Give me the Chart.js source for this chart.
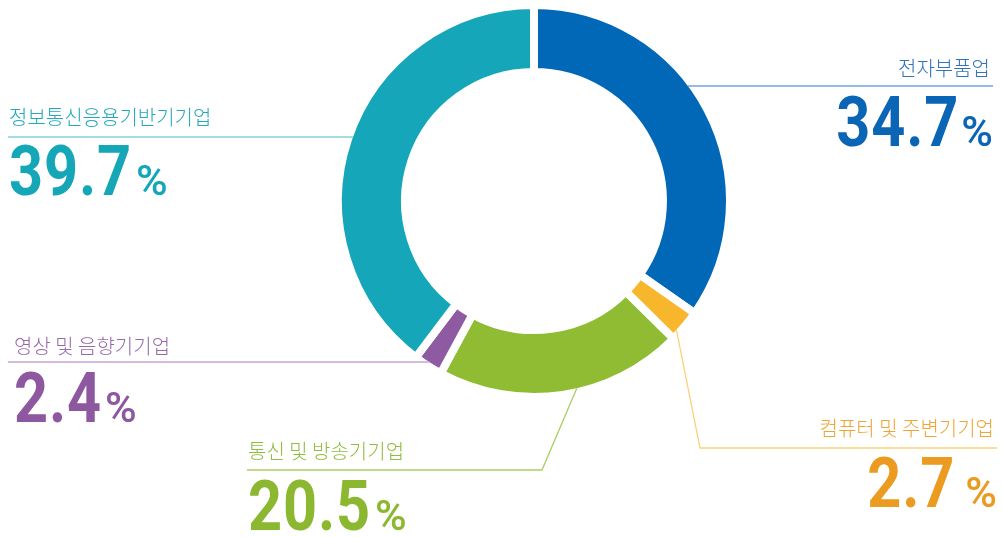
<!DOCTYPE html>
<html>
<head>
<meta charset="utf-8">
<script src="https://cdn.jsdelivr.net/npm/chart.js@4.4.0/dist/chart.umd.min.js"></script>
<style>
  html, body { margin: 0; padding: 0; background: #fff; }
  canvas { display: block; }
</style>
</head>
<body>
<canvas id="shareChart" width="1002" height="537"></canvas>
<script>
// slices run clockwise from 12 o'clock
const categories = ['전자부품업', '컴퓨터 및 주변기기업', '통신 및 방송기기업', '영상 및 음향기기업', '정보통신응용기반기기업'];
const shares = [34.7, 2.7, 20.5, 2.4, 39.7];

const sliceColors = ['#0068b7', '#f8b62d', '#8fbc33', '#8e5ba3', '#15a7b9'];
const labelColors = ['#2f74bd', '#f0a535', '#8fbd3c', '#9768ab', '#22a9bb'];
const numberColors = ['#0a66b4', '#eb9b20', '#8bb830', '#8e58a0', '#15a6b8'];
const lineColors = ['#6aa6e0', '#fcd27a', '#a9cf62', '#c9a4d6', '#86d1db'];

// where each callout sits (layout only)
const callouts = [
  { align: 'right', x: 993, labelY: 76, lineY: 86, lineEnd: 993, numY: 146, gap: 2 },
  { align: 'right', x: 997, labelY: 436, lineY: 448, lineEnd: 997, elbowX: 700, t: 0.74, numY: 507, gap: 10 },
  { align: 'left', x: 248, labelY: 459, lineY: 470, lineEnd: 247, elbowX: 542, t: 0.44, numY: 530, gap: 4 },
  { align: 'left', x: 14, labelY: 354, lineY: 362, lineEnd: 8, numY: 422, gap: 3 },
  { align: 'left', x: 9, labelY: 125, lineY: 137, lineEnd: 8, numY: 195, gap: 4 }
];

const NUM_FONT = 'bold 70px Roboto';
const PCT_FONT = '500 43px Roboto';
const NUM_SCALE = 0.85;

const calloutPlugin = {
  id: 'callouts',
  afterDraw(chart) {
    const ctx = chart.ctx;
    const arcs = chart.getDatasetMeta(0).data;
    arcs.forEach((arc, i) => {
      const c = callouts[i];
      const p = arc.getProps(['x', 'y', 'outerRadius', 'startAngle', 'endAngle'], true);
      const R = p.outerRadius - 4; // visible edge (white border eats 4px)
      ctx.save();

      // leader line
      ctx.strokeStyle = lineColors[i];
      ctx.lineWidth = 1.3;
      ctx.beginPath();
      if (c.elbowX !== undefined) {
        const a = p.startAngle + (p.endAngle - p.startAngle) * c.t;
        ctx.moveTo(p.x + Math.cos(a) * R, p.y + Math.sin(a) * R);
        ctx.lineTo(c.elbowX, c.lineY);
      } else {
        const dy = c.lineY - p.y;
        const dx = Math.sqrt(Math.max(R * R - dy * dy, 0));
        ctx.moveTo(c.align === 'right' ? p.x + dx : p.x - dx, c.lineY);
      }
      ctx.lineTo(c.lineEnd, c.lineY);
      ctx.stroke();

      // category name
      ctx.font = '300 20px "Noto Sans CJK KR"';
      ctx.letterSpacing = '0px';
      ctx.fillStyle = labelColors[i];
      ctx.textBaseline = 'alphabetic';
      ctx.textAlign = c.align;
      ctx.fillText(categories[i], c.x - (c.align === 'right' ? 3 : 0), c.labelY);

      // share value
      const num = shares[i].toFixed(1);
      ctx.textAlign = 'left';
      ctx.font = NUM_FONT;
      ctx.letterSpacing = '1px';
      const numW = ctx.measureText(num).width * NUM_SCALE;
      ctx.font = PCT_FONT;
      ctx.letterSpacing = '0px';
      const pctW = ctx.measureText('%').width;
      const startX = c.align === 'right' ? c.x - (numW + c.gap + pctW) : c.x;

      ctx.fillStyle = numberColors[i];
      ctx.save();
      ctx.translate(startX, c.numY);
      ctx.scale(NUM_SCALE, 1);
      ctx.font = NUM_FONT;
      ctx.letterSpacing = '1px';
      ctx.fillText(num, 0, 0);
      ctx.restore();
      ctx.font = PCT_FONT;
      ctx.letterSpacing = '0px';
      ctx.fillText('%', startX + numW + c.gap, c.numY);
      ctx.restore();
    });
  }
};

const ctx = document.getElementById('shareChart').getContext('2d');
const shareChart = new Chart(ctx, {
  type: 'doughnut',
  data: {
    labels: categories,
    datasets: [{
      data: shares,
      backgroundColor: sliceColors,
      borderColor: '#ffffff',
      borderWidth: 8,
      borderAlign: 'center',
      borderJoinStyle: 'miter'
    }]
  },
  options: {
    responsive: false,
    animation: false,
    cutout: '65.8%',
    layout: { padding: { top: 1, bottom: 136, left: 334, right: 268 } },
    plugins: {
      legend: { display: false },
      tooltip: { enabled: false }
    }
  },
  plugins: [calloutPlugin]
});
</script>
</body>
</html>
